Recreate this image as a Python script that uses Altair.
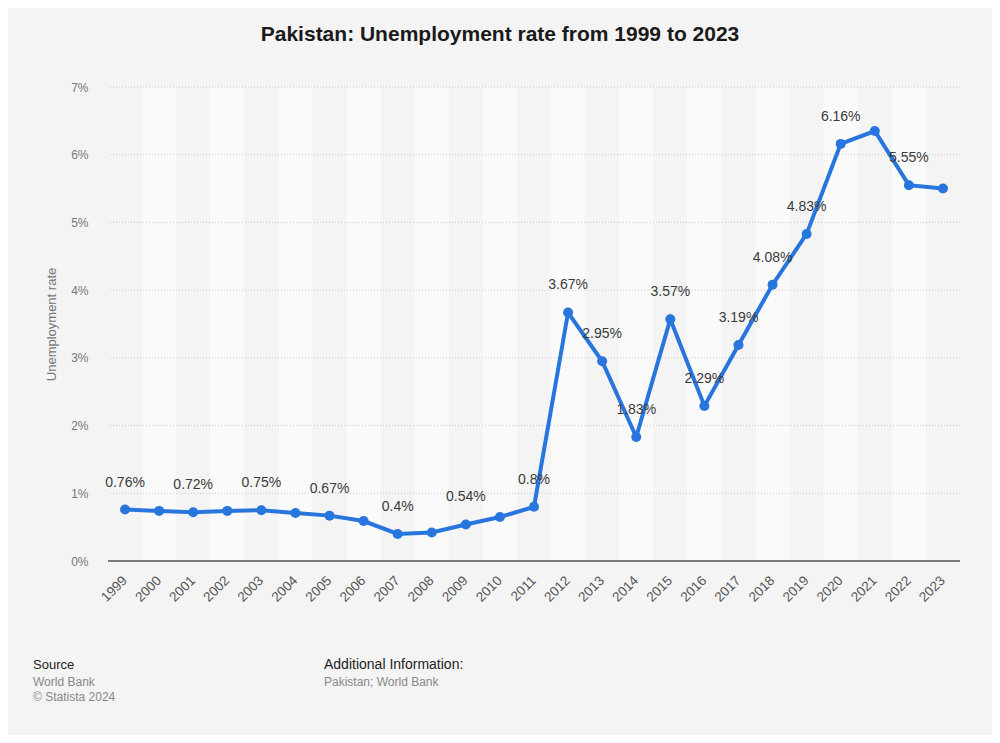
import altair as alt
import pandas as pd

years = [str(y) for y in range(1999, 2024)]
values = [0.76, 0.74, 0.72, 0.74, 0.75, 0.71, 0.67, 0.59, 0.40, 0.42, 0.54, 0.65, 0.80,
          3.67, 2.95, 1.83, 3.57, 2.29, 3.19, 4.08, 4.83, 6.16, 6.35, 5.55, 5.50]
label_texts = ["0.76%", "", "0.72%", "", "0.75%", "", "0.67%", "", "0.4%", "", "0.54%", "", "0.8%",
               "3.67%", "2.95%", "1.83%", "3.57%", "2.29%", "3.19%", "4.08%", "4.83%", "6.16%", "", "5.55%", ""]
y_ticks = [0, 1, 2, 3, 4, 5, 6, 7]
band_years = years[1::2]

BLUE = "#2876dd"
FONT = "Liberation Sans"

df = pd.DataFrame({"year": years, "rate": values, "label": label_texts})
bands_df = pd.DataFrame({"year": band_years, "top": [7] * len(band_years)})
grid_df = pd.DataFrame({"v": y_ticks[1:]})

x_scale = alt.Scale(domain=years, paddingInner=0, paddingOuter=0)
y_scale = alt.Scale(domain=[0, 7], nice=False)

x_axis = alt.Axis(labelAngle=315, labelAlign="right", labelBaseline="middle",
                  labelPadding=17, ticks=False, domain=False, grid=False,
                  labelFont=FONT, labelFontSize=13.5, labelColor="#555555", title=None)
y_axis = alt.Axis(values=y_ticks, labelExpr="datum.value + '%'", ticks=False, domain=False,
                  grid=False, labelPadding=20, labelFont=FONT, labelFontSize=12,
                  labelColor="#777777", title="Unemployment rate", titleFont=FONT,
                  titleFontSize=13, titleFontWeight="normal", titleColor="#777777",
                  titlePadding=12)

bands = alt.Chart(bands_df).mark_rect(color="#fafafa").encode(
    x=alt.X("year:N", scale=x_scale, axis=x_axis),
    y=alt.Y("top:Q", scale=y_scale, axis=y_axis),
    y2=alt.datum(0),
)

grid = alt.Chart(grid_df).mark_rule(color="#c8c8c8", strokeDash=[1, 2], strokeWidth=1).encode(
    y=alt.Y("v:Q", scale=y_scale),
)

zero = alt.Chart(pd.DataFrame({"v": [0]})).mark_rule(color="#000000", strokeWidth=1.2).encode(
    y=alt.Y("v:Q", scale=y_scale),
)

line = alt.Chart(df).mark_line(color=BLUE, strokeWidth=4).encode(
    x=alt.X("year:N", scale=x_scale),
    y=alt.Y("rate:Q", scale=y_scale),
)
points = alt.Chart(df).mark_point(color=BLUE, filled=True, size=100, opacity=1).encode(
    x=alt.X("year:N", scale=x_scale),
    y=alt.Y("rate:Q", scale=y_scale),
)
labels = alt.Chart(df).mark_text(font=FONT, fontSize=14, color="#3a3a3a", dy=-27,
                                 align="center", baseline="middle").encode(
    x=alt.X("year:N", scale=x_scale),
    y=alt.Y("rate:Q", scale=y_scale),
    text="label:N",
)

def txt(s, x, y, size, color, weight="normal", align="left"):
    return alt.Chart(alt.Data(values=[{}])).mark_text(
        text=s, font=FONT, fontSize=size, color=color, fontWeight=weight,
        align=align, baseline="middle"
    ).encode(x=alt.value(x), y=alt.value(y))

title = txt("Pakistan: Unemployment rate from 1999 to 2023", 392, -52, 21, "#1a1a1a", "bold", "center")
src1 = txt("Source", -75, 578, 13, "#222222")
src2 = txt("World Bank", -75, 595, 12, "#888888")
src3 = txt("© Statista 2024", -75, 610, 12, "#888888")
add1 = txt("Additional Information:", 216, 578, 14, "#222222")
add2 = txt("Pakistan; World Bank", 216, 595, 12, "#888888")

chart = alt.layer(
    bands, grid, zero, line, points, labels, title, src1, src2, src3, add1, add2
).properties(
    width=852, height=474,
    autosize=alt.AutoSizeParams(type="none"),
    padding={"left": 100, "top": 79, "right": 32, "bottom": 174},
    background="#f4f4f4",
).configure_view(stroke=None)

chart.save("out.html", embed_options={"renderer": "svg", "actions": False})
